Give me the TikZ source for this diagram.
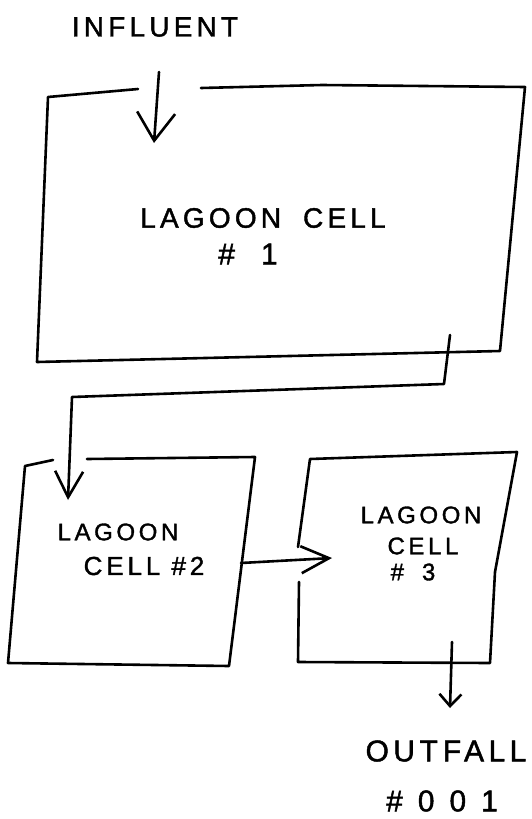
\documentclass[tikz,border=0pt]{standalone}
\usepackage{fontspec}
\setmainfont{Liberation Sans}
\newfontfamily\hand[LetterSpace=15, FakeBold=1.5]{Liberation Sans}
\usetikzlibrary{arrows.meta}

\begin{document}
\begin{tikzpicture}[x=1pt, y=-1pt,
    pen/.style={line width=2.6pt, line cap=round, line join=round},
    flow/.style n args={2}{pen, -{Straight Barb[length=#1, width=#2]}},
    lbl/.style={inner sep=0pt, font=\hand\fontsize{28}{32}\selectfont},
    small/.style={inner sep=0pt, font=\hand\fontsize{24}{28}\selectfont}]
\useasboundingbox (0,0) rectangle (532,819);

% Lagoon cell 1
\coordinate (c1nw) at (48,97);   \coordinate (c1ne) at (525,87);
\coordinate (c1se) at (500,351); \coordinate (c1sw) at (37,362);
\coordinate (c1gapl) at (138,89); \coordinate (c1gapr) at (201,88);
\draw[pen] (c1gapl) -- (c1nw) -- (c1sw) -- (c1se) -- (c1ne) -- (322,85) -- (c1gapr);
\node[lbl] (cellone) at (263,218) {LAGOON\hspace{10pt} CELL};
\node[lbl, font=\hand\fontsize{30}{32}\selectfont] (cellonenum) at (248,254) {\#\hspace{26pt}1};

% Lagoon cell 2
\coordinate (c2nw) at (25,466);  \coordinate (c2ne) at (255,457);
\coordinate (c2se) at (229,666); \coordinate (c2sw) at (8,663);
\coordinate (c2gapl) at (53,460); \coordinate (c2gapr) at (87,459);
\draw[pen] (c2gapl) -- (c2nw) -- (c2sw) -- (c2se) -- (c2ne) -- (c2gapr);
\node[small] (celltwo) at (118,532) {LAGOON};
\node[small, font=\hand\fontsize{26}{28}\selectfont] (celltwonum) at (144,566) {CELL \#2};

% Lagoon cell 3
\coordinate (c3nw) at (310,459); \coordinate (c3ne) at (517,452);
\coordinate (c3se) at (490,663); \coordinate (c3sw) at (298,662);
\coordinate (c3gapt) at (298,547); \coordinate (c3gapb) at (299,582);
\draw[pen] (c3gapb) -- (c3sw) -- (c3se) -- (495,572) -- (c3ne) -- (c3nw) -- (c3gapt);
\node[small] (cellthree) at (421,515) {LAGOON};
\node[small] (cellthreeb) at (423,546) {CELL};
\node[small] (cellthreenum) at (413,572) {\#\hspace{18pt}3};

% Flow through the cells
\node[lbl] (influent) at (155,27) {INFLUENT};
\coordinate (inflow) at (159,72);  \coordinate (inlet1) at (154,143);
\draw[flow={28pt}{38pt}] (inflow) -- (inlet1);

\coordinate (outlet1) at (450,335); \coordinate (bend1) at (444,384);
\coordinate (bend2) at (72,397);    \coordinate (inlet2) at (68,500);
\draw[flow={26pt}{28pt}] (outlet1) -- (bend1) -- (bend2) -- (inlet2);

\coordinate (outlet2) at (241,563); \coordinate (inlet3) at (332,558);
\draw[flow={28pt}{27pt}] (outlet2) -- (inlet3);

\coordinate (outlet3) at (452,642); \coordinate (drain) at (450,708);
\draw[flow={12pt}{22pt}] (outlet3) -- (drain);
\node[lbl, font=\hand\fontsize{30}{32}\selectfont] (outfall) at (446,751) {OUT\,FALL};
\node[lbl, font=\hand\addfontfeature{LetterSpace=50}\fontsize{30}{32}\selectfont] (outfallnum) at (442,801) {\#001};
\end{tikzpicture}
\end{document}
